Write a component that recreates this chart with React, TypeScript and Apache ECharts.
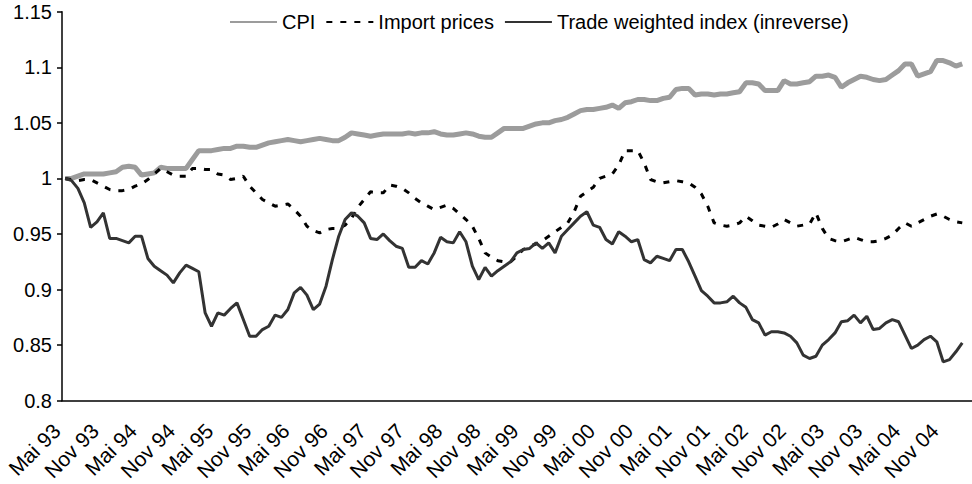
import React, { useEffect, useRef } from "react";
import * as echarts from "echarts";

const MONTHS = ["Jan", "Feb", "Mär", "Apr", "Mai", "Jun", "Jul", "Aug", "Sep", "Okt", "Nov", "Dez"];
const START_YEAR = 1993;
const START_MONTH = 4; // Mai
const CATEGORY_COUNT = 143;
const categories: string[] = Array.from({ length: CATEGORY_COUNT }, (_, i) => {
  const mi = START_MONTH + i;
  const y = START_YEAR + Math.floor(mi / 12);
  return `${MONTHS[mi % 12]} ${String(y % 100).padStart(2, "0")}`;
});

const cpi = [
  1.000, 1.000, 1.002, 1.004, 1.004, 1.004, 1.004, 1.005, 1.006, 1.010, 1.011, 1.010,
  1.003, 1.004, 1.005, 1.010, 1.009, 1.009, 1.009, 1.009, 1.017, 1.025, 1.025, 1.025,
  1.026, 1.027, 1.027, 1.029, 1.029, 1.028, 1.028, 1.030, 1.032, 1.033, 1.034, 1.035,
  1.034, 1.033, 1.034, 1.035, 1.036, 1.035, 1.034, 1.034, 1.037, 1.041, 1.040, 1.039,
  1.038, 1.039, 1.040, 1.040, 1.040, 1.040, 1.041, 1.040, 1.041, 1.041, 1.042, 1.040,
  1.039, 1.039, 1.040, 1.041, 1.040, 1.038, 1.037, 1.037, 1.041, 1.045, 1.045, 1.045,
  1.045, 1.047, 1.049, 1.050, 1.050, 1.052, 1.053, 1.055, 1.058, 1.061, 1.062, 1.062,
  1.063, 1.064, 1.066, 1.063, 1.068, 1.069, 1.071, 1.071, 1.070, 1.070, 1.072, 1.073,
  1.080, 1.081, 1.081, 1.075, 1.076, 1.076, 1.075, 1.076, 1.076, 1.077, 1.078, 1.086,
  1.086, 1.085, 1.079, 1.079, 1.079, 1.088, 1.085, 1.085, 1.086, 1.087, 1.092, 1.092,
  1.093, 1.091, 1.082, 1.086, 1.089, 1.092, 1.091, 1.089, 1.088, 1.089, 1.093, 1.097,
  1.103, 1.103, 1.092, 1.094, 1.096, 1.106, 1.106, 1.104, 1.101, 1.103,
];

const importPrices = [
  1.000, 0.999, 0.998, 0.999, 0.999, 0.996, 0.993, 0.990, 0.989, 0.989, 0.990, 0.993,
  0.995, 0.999, 1.004, 1.009, 1.006, 1.003, 1.002, 1.002, 1.009, 1.009, 1.008, 1.008,
  1.004, 1.003, 0.999, 1.000, 1.002, 0.993, 0.987, 0.981, 0.978, 0.975, 0.976, 0.977,
  0.972, 0.966, 0.957, 0.953, 0.951, 0.954, 0.955, 0.955, 0.958, 0.964, 0.974, 0.981,
  0.988, 0.987, 0.987, 0.994, 0.993, 0.991, 0.987, 0.982, 0.978, 0.975, 0.972, 0.974,
  0.976, 0.973, 0.968, 0.963, 0.957, 0.946, 0.933, 0.929, 0.926, 0.925, 0.925, 0.930,
  0.936, 0.939, 0.941, 0.944, 0.948, 0.952, 0.956, 0.960, 0.970, 0.984, 0.988, 0.992,
  1.000, 1.002, 1.004, 1.012, 1.025, 1.025, 1.025, 1.014, 0.999, 0.997, 0.996, 0.997,
  0.998, 0.997, 0.996, 0.992, 0.986, 0.975, 0.960, 0.958, 0.957, 0.958, 0.960, 0.966,
  0.962, 0.958, 0.957, 0.956, 0.959, 0.963, 0.960, 0.957, 0.958, 0.959, 0.969, 0.955,
  0.946, 0.944, 0.943, 0.945, 0.947, 0.945, 0.943, 0.943, 0.944, 0.946, 0.949, 0.955,
  0.960, 0.957, 0.960, 0.963, 0.966, 0.968, 0.966, 0.963, 0.961, 0.960,
];

const tradeWeighted = [
  1.000, 0.998, 0.991, 0.978, 0.956, 0.961, 0.969, 0.946, 0.946, 0.944, 0.942, 0.948,
  0.948, 0.928, 0.921, 0.917, 0.913, 0.906, 0.915, 0.922, 0.919, 0.916, 0.879, 0.867,
  0.879, 0.877, 0.883, 0.888, 0.873, 0.858, 0.858, 0.864, 0.867, 0.877, 0.875, 0.882,
  0.897, 0.902, 0.895, 0.882, 0.887, 0.903, 0.927, 0.948, 0.963, 0.969, 0.966, 0.960,
  0.946, 0.945, 0.950, 0.944, 0.939, 0.937, 0.920, 0.920, 0.926, 0.923, 0.933, 0.947,
  0.943, 0.942, 0.952, 0.943, 0.921, 0.909, 0.920, 0.912, 0.917, 0.921, 0.925, 0.933,
  0.936, 0.937, 0.942, 0.937, 0.942, 0.933, 0.948, 0.954, 0.960, 0.966, 0.970, 0.958,
  0.956, 0.945, 0.941, 0.952, 0.948, 0.943, 0.945, 0.927, 0.924, 0.930, 0.928, 0.926,
  0.936, 0.936, 0.925, 0.912, 0.899, 0.894, 0.888, 0.888, 0.889, 0.894, 0.888, 0.884,
  0.873, 0.870, 0.859, 0.862, 0.862, 0.861, 0.858, 0.852, 0.841, 0.838, 0.840, 0.850,
  0.855, 0.861, 0.871, 0.872, 0.877, 0.870, 0.876, 0.864, 0.865, 0.870, 0.873, 0.871,
  0.859, 0.847, 0.850, 0.855, 0.858, 0.853, 0.835, 0.837, 0.844, 0.852,
];

const FONT = 'Arial, "Liberation Sans", sans-serif';

export default function App() {
  const ref = useRef<HTMLDivElement>(null);
  useEffect(() => {
    if (!ref.current) return;
    const chart = echarts.init(ref.current, undefined, { renderer: "svg" });
    chart.setOption({
      animation: false,
      backgroundColor: "#ffffff",
      textStyle: { fontFamily: FONT, color: "#000" },
      legend: {
        left: 224,
        top: 7,
        itemWidth: 47,
        itemHeight: 14,
        itemGap: 10,
        itemStyle: { opacity: 0 },
        textStyle: { fontSize: 20, color: "#000", fontFamily: FONT },
        data: ["CPI", "Import prices", "Trade weighted index (inreverse)"],
      },
      grid: { left: 62, right: 0.2, top: 11.7, bottom: 83.3, outerBoundsMode: "none" },
      xAxis: {
        type: "category",
        data: categories,
        boundaryGap: true,
        axisLine: { lineStyle: { color: "#000", width: 1.5 } },
        axisTick: { interval: 5, length: 6, lineStyle: { color: "#000", width: 1.5 } },
        axisLabel: {
          interval: 5,
          rotate: 45,
          margin: 18,
          padding: [0, 12, 0, 0],
          fontSize: 21,
          color: "#000",
          fontFamily: FONT,
        },
        splitLine: { show: false },
      },
      yAxis: {
        type: "value",
        min: 0.8,
        max: 1.15,
        interval: 0.05,
        axisLine: { show: true, lineStyle: { color: "#000", width: 1.5 } },
        axisTick: { show: true, length: 5, lineStyle: { color: "#000", width: 1.5 } },
        axisLabel: { fontSize: 20, color: "#000", margin: 10, fontFamily: FONT },
        splitLine: { show: false },
      },
      series: [
        {
          name: "CPI",
          type: "line",
          data: cpi,
          symbol: "none",
          lineStyle: { color: "#9c9c9c", width: 5 },
          itemStyle: { color: "#9c9c9c" },
        },
        {
          name: "Import prices",
          type: "line",
          data: importPrices,
          symbol: "none",
          lineStyle: { color: "#000", width: 3, type: [6, 8] },
          itemStyle: { color: "#000" },
        },
        {
          name: "Trade weighted index (inreverse)",
          type: "line",
          data: tradeWeighted,
          symbol: "none",
          lineStyle: { color: "#333333", width: 3 },
          itemStyle: { color: "#333333" },
        },
      ],
    });
    return () => chart.dispose();
  }, []);
  return (
    <div
      ref={ref}
      style={{ position: "fixed", left: 0, top: 0, width: 972, height: 484, background: "#fff" }}
    />
  );
}
